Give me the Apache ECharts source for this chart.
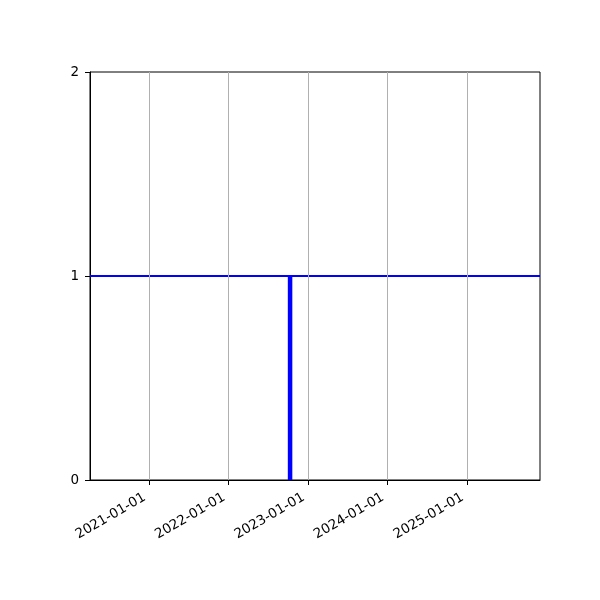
<!DOCTYPE html>
<html>
<head>
<meta charset="utf-8">
<script src="https://cdn.jsdelivr.net/npm/echarts@6/dist/echarts.min.js"></script>
<style>
    html, body { margin: 0; padding: 0; background: #fff; }
    #main { width: 600px; height: 600px; }
</style>
</head>
<body>
<div id="main"></div>
<script>
// x range of the axes (dates)
var xRange = ['2020-04-05', '2025-12-02'];
// year ticks
var yearTicks = ['2021-01-01', '2022-01-01', '2023-01-01', '2024-01-01', '2025-01-01'];
// horizontal level line
var levelDates = ['2020-04-05', '2025-12-02'];
var levelValues = [1, 1];
// single event spike
var eventDates = ['2022-10-11', '2022-10-11'];
var eventValues = [0, 1];
var yTicks = [0, 1, 2];

function ts(d) { return new Date(d + 'T00:00:00Z').getTime(); }

function pad(n) { return n < 10 ? '0' + n : '' + n; }
function fmt(v) {
    var d = new Date(v);
    return d.getUTCFullYear() + '-' + pad(d.getUTCMonth() + 1) + '-' + pad(d.getUTCDate());
}

var font = 'DejaVu Sans';
var tickVals = yearTicks.map(ts);

var option = {
    animation: false,
    backgroundColor: '#fff',
    grid: {
        left: 90, right: 60, top: 72, bottom: 120,
        show: true, borderColor: '#000', borderWidth: 1, backgroundColor: 'transparent'
    },
    xAxis: {
        type: 'value',
        min: ts(xRange[0]),
        max: ts(xRange[1]),
        axisLine: { show: true, lineStyle: { color: '#000', width: 1 } },
        axisTick: { show: true, customValues: tickVals, length: 5, lineStyle: { color: '#000' } },
        axisLabel: {
            customValues: tickVals,
            rotate: 30,
            color: '#000',
            fontFamily: font,
            fontSize: 13.5,
            margin: 14,
            padding: [0, 5, 0, 0],
            formatter: function (v) { return fmt(v); }
        },
        splitLine: { show: false }
    },
    yAxis: {
        type: 'value',
        min: 0,
        max: 2,
        interval: 1,
        axisLine: { show: true, lineStyle: { color: '#000', width: 1 } },
        axisTick: { show: true, length: 5, lineStyle: { color: '#000' } },
        axisLabel: { color: '#000', fontFamily: font, fontSize: 13.5, margin: 11 },
        splitLine: { show: false }
    },
    series: [
        {
            type: 'line',
            name: 'grid',
            data: [],
            silent: true,
            markLine: {
                symbol: 'none',
                silent: true,
                label: { show: false },
                lineStyle: { color: '#b0b0b0', width: 1, type: 'solid' },
                data: tickVals.map(function (v) { return { xAxis: v }; })
            }
        },
        {
            type: 'line',
            name: 'level',
            data: levelDates.map(function (d, i) { return [ts(d), levelValues[i]]; }),
            showSymbol: false,
            lineStyle: { color: '#0000ff', width: 2 },
            z: 3
        },
        {
            type: 'line',
            name: 'event',
            data: eventDates.map(function (d, i) { return [ts(d), eventValues[i]]; }),
            showSymbol: false,
            lineStyle: { color: '#0000ff', width: 4.5, cap: 'butt' },
            z: 4
        }
    ]
};

var myChart = echarts.init(document.getElementById('main'));
myChart.setOption(option);
</script>
</body>
</html>
